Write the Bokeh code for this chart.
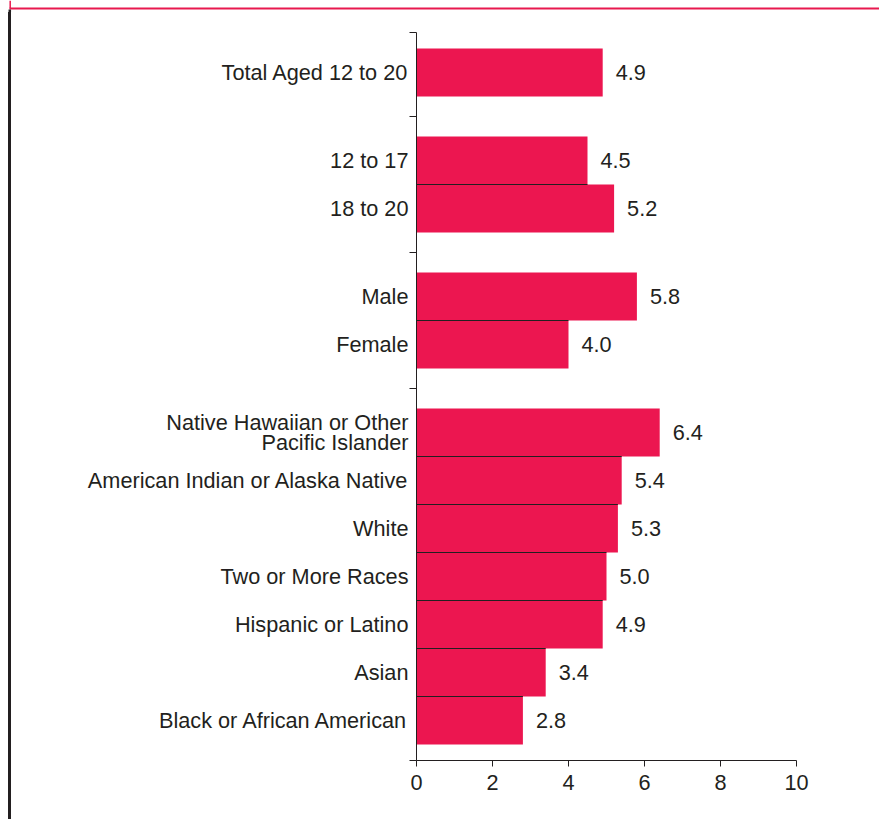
from bokeh.plotting import figure
from bokeh.models import Range1d, FixedTicker, ColumnDataSource, Spacer
from bokeh.layouts import column, row
from bokeh.embed import file_html
from bokeh.resources import INLINE
from bokeh.core.properties import value

# ---- data ----
group_labels = [
    ["Total Aged 12 to 20"],
    ["12 to 17", "18 to 20"],
    ["Male", "Female"],
    ["Native Hawaiian or Other\nPacific Islander",
     "American Indian or Alaska Native",
     "White",
     "Two or More Races",
     "Hispanic or Latino",
     "Asian",
     "Black or African American"],
]
group_values = [
    [4.9],
    [4.5, 5.2],
    [5.8, 4.0],
    [6.4, 5.4, 5.3, 5.0, 4.9, 3.4, 2.8],
]
x_ticks = [0, 2, 4, 6, 8, 10]

# ---- style / layout constants ----
BAR_COLOR = "#EC1650"
RED_LINE = "#E8194F"
DARK = "#231f20"
FONT = "Liberation Sans"
FSIZE = "21.7px"
BAR = 48
GAP = 40
PAD = 16
EDGE = 12  # height of the top decorative strip
LEFT_PAD = 8
LEFT_RULE = 3

# ---- compute positions ----
names, vals, centers, seps = [], [], [], [0]
seg_y, seg_x1 = [], []
y = PAD
for gi, (labs, vs) in enumerate(zip(group_labels, group_values)):
    if gi > 0:
        seps.append(y + GAP / 2)
        y += GAP
    for j, (n, v) in enumerate(zip(labs, vs)):
        if j > 0:
            seg_y.append(y)
            seg_x1.append(min(vs[j - 1], v))
        names.append(n)
        vals.append(v)
        centers.append(y + BAR / 2)
        y += BAR
y += PAD
total = y
seps.append(total)

src = ColumnDataSource(dict(y=centers, v=vals, lab=[f"{v:.1f}" for v in vals]))

W, H = 879, 819
PW = W - LEFT_PAD - LEFT_RULE
PH = H - EDGE
MBL = 416 - LEFT_PAD - LEFT_RULE
p = figure(width=PW, height=PH, x_range=Range1d(0, 10), y_range=Range1d(total, 0),
           output_backend="svg", toolbar_location=None,
           min_border_left=MBL, min_border_right=PW - MBL - 380,
           min_border_top=20, min_border_bottom=PH - 20 - int(total))
p.outline_line_color = None
p.xgrid.visible = False
p.ygrid.visible = False
p.background_fill_color = "white"
p.border_fill_color = "white"

p.hbar(y="y", left=0, right="v", height=BAR, source=src,
       fill_color=BAR_COLOR, line_color=None)
p.segment(x0=[0] * len(seg_y), y0=seg_y, x1=seg_x1, y1=seg_y,
          line_color=DARK, line_width=1)
p.text(x="v", y="y", text="lab", source=src, x_offset=13,
       text_baseline="middle", text_align="left",
       text_font=value(FONT), text_font_size=FSIZE, text_color=DARK)

xa = p.xaxis[0]
xa.ticker = FixedTicker(ticks=x_ticks)
xa.minor_tick_line_color = None
xa.major_tick_out = 6
xa.major_tick_in = 0
xa.major_label_standoff = 8
xa.axis_line_color = DARK
xa.major_tick_line_color = DARK
xa.major_label_text_font = FONT
xa.major_label_text_font_size = FSIZE
xa.major_label_text_color = DARK

ya = p.yaxis[0]
ya.ticker = FixedTicker(ticks=centers, minor_ticks=seps)
ya.major_label_overrides = {c: n for c, n in zip(centers, names)}
ya.major_tick_out = 0
ya.major_tick_in = 0
ya.major_tick_line_color = None
ya.minor_tick_out = 7
ya.minor_tick_in = 0
ya.minor_tick_line_color = DARK
ya.axis_line_color = DARK
ya.major_label_standoff = 1
ya.major_label_text_font = FONT
ya.major_label_text_font_size = FSIZE
ya.major_label_text_color = DARK
ya.major_label_text_line_height = 0.8

# decorative strip on top: red rule of the (cut-off) title box
top = figure(width=W, height=EDGE, toolbar_location=None, output_backend="svg",
             x_range=Range1d(0, W), y_range=Range1d(EDGE, 0),
             x_axis_location=None, y_axis_location=None, min_border=0)
top.background_fill_color = "white"
top.border_fill_color = "white"
top.outline_line_color = None
top.grid.visible = False
top.segment(x0=[9], y0=[8], x1=[W], y1=[8], line_color=RED_LINE, line_width=2)
top.segment(x0=[9.7], y0=[0], x1=[9.7], y1=[8], line_color=RED_LINE, line_width=1.5)
top.segment(x0=[9.3], y0=[9], x1=[9.3], y1=[EDGE], line_color=DARK, line_width=2.5)

left_gap = Spacer(width=LEFT_PAD, height=PH)
left_rule = Spacer(width=LEFT_RULE, height=PH, styles={"background-color": DARK})

layout = column(top, row(left_gap, left_rule, p, spacing=0), spacing=0)

open("out.html", "w").write(file_html(layout, INLINE))
